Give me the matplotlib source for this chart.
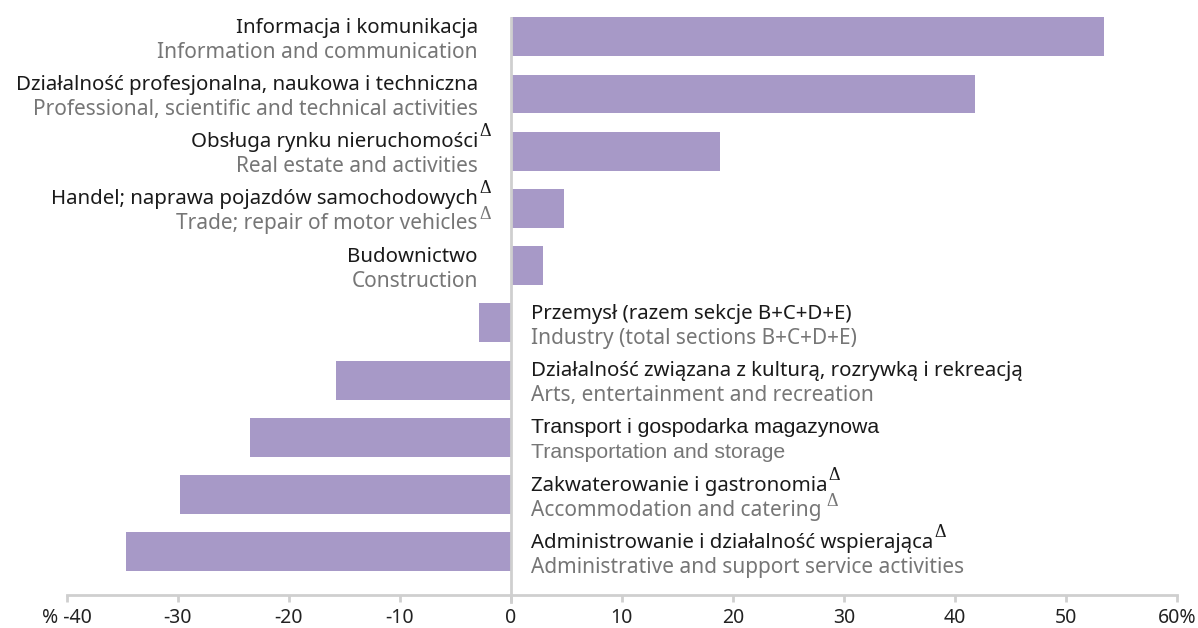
import matplotlib
matplotlib.use("Agg")
import matplotlib.pyplot as plt

plt.rcParams['font.family'] = ['Noto Sans', 'DejaVu Sans']

labels_pl = [
    "Informacja i komunikacja",
    "Działalność profesjonalna, naukowa i techniczna",
    "Obsługa rynku nieruchomości",
    "Handel; naprawa pojazdów samochodowych",
    "Budownictwo",
    "Przemysł (razem sekcje B+C+D+E)",
    "Działalność związana z kulturą, rozrywką i rekreacją",
    "Transport i gospodarka magazynowa",
    "Zakwaterowanie i gastronomia",
    "Administrowanie i działalność wspierająca",
]
labels_en = [
    "Information and communication",
    "Professional, scientific and technical activities",
    "Real estate and activities",
    "Trade; repair of motor vehicles",
    "Construction",
    "Industry (total sections B+C+D+E)",
    "Arts, entertainment and recreation",
    "Transportation and storage",
    "Accommodation and catering",
    "Administrative and support service activities",
]
# delta marks after the Polish / English label
delta_pl = [False, False, True, True, False, False, False, False, True, True]
delta_en = [False, False, False, True, False, False, False, False, True, False]
values = [53.4, 41.8, 18.8, 4.8, 2.9, -2.9, -15.8, -23.5, -29.8, -34.7]
xticks = [-40, -30, -20, -10, 0, 10, 20, 30, 40, 50, 60]
xticklabels = ['% -40', '-30', '-20', '-10', '0', '10', '20', '30', '40', '50', '60%']

bar_color = '#a799c7'
dark = '#1a1a1a'
grey = '#767676'
axis_grey = '#cfcfcf'

fig = plt.figure(figsize=(11.98, 6.28), dpi=100)
ax = fig.add_axes([0.0559, 0.0525, 0.9265, 0.924])

ypos = list(range(len(values)))
ax.barh(ypos, values, height=0.68, color=bar_color, zorder=2)
ax.set_xlim(-40, 60)
ax.set_ylim(9.755, -0.385)

ax.axvline(0, ymin=-0.012, ymax=0.995, color=axis_grey, lw=2, zorder=3, clip_on=False)

for s in ['top', 'right', 'left']:
    ax.spines[s].set_visible(False)
ax.spines['bottom'].set_color(axis_grey)
ax.spines['bottom'].set_linewidth(2)
ax.set_yticks([])
ax.set_xticks(xticks)
ax.set_xticklabels(xticklabels)
ax.tick_params(axis='x', colors=axis_grey, length=5, width=2, pad=4,
               labelsize=14, labelcolor='#222222')

for i, v in enumerate(values):
    if v >= 0:
        dx, ha = -33, 'right'
    else:
        dx, ha = 20, 'left'
    if labels_pl[i].startswith('Transport'):
        fam, fs_pl, fs_en = ['Liberation Sans'], 15.3, 15.3
    else:
        fam, fs_pl, fs_en = ['Noto Sans', 'DejaVu Sans'], 14.7, 15
    t1 = ax.annotate(labels_pl[i], xy=(0, i), xytext=(dx, 4), textcoords='offset pixels',
                     ha=ha, va='baseline', fontsize=fs_pl, color=dark, family=fam)
    t2 = ax.annotate(labels_en[i], xy=(0, i), xytext=(dx, -21), textcoords='offset pixels',
                     ha=ha, va='baseline', fontsize=fs_en, color=grey, family=fam)
    gap = 5 if labels_en[i].startswith('Accommodation') else 1
    if delta_pl[i]:
        ax.annotate('Δ', xy=(1, i), xycoords=(t1, 'data'), xytext=(1, 15),
                    textcoords='offset pixels', ha='left', va='baseline',
                    fontsize=13, color=dark, family='Liberation Serif')
    if delta_en[i]:
        ax.annotate('Δ', xy=(1, i), xycoords=(t2, 'data'), xytext=(gap, -11),
                    textcoords='offset pixels', ha='left', va='baseline',
                    fontsize=13, color=grey, family='Liberation Serif')

fig.savefig('out.png', dpi=100)
